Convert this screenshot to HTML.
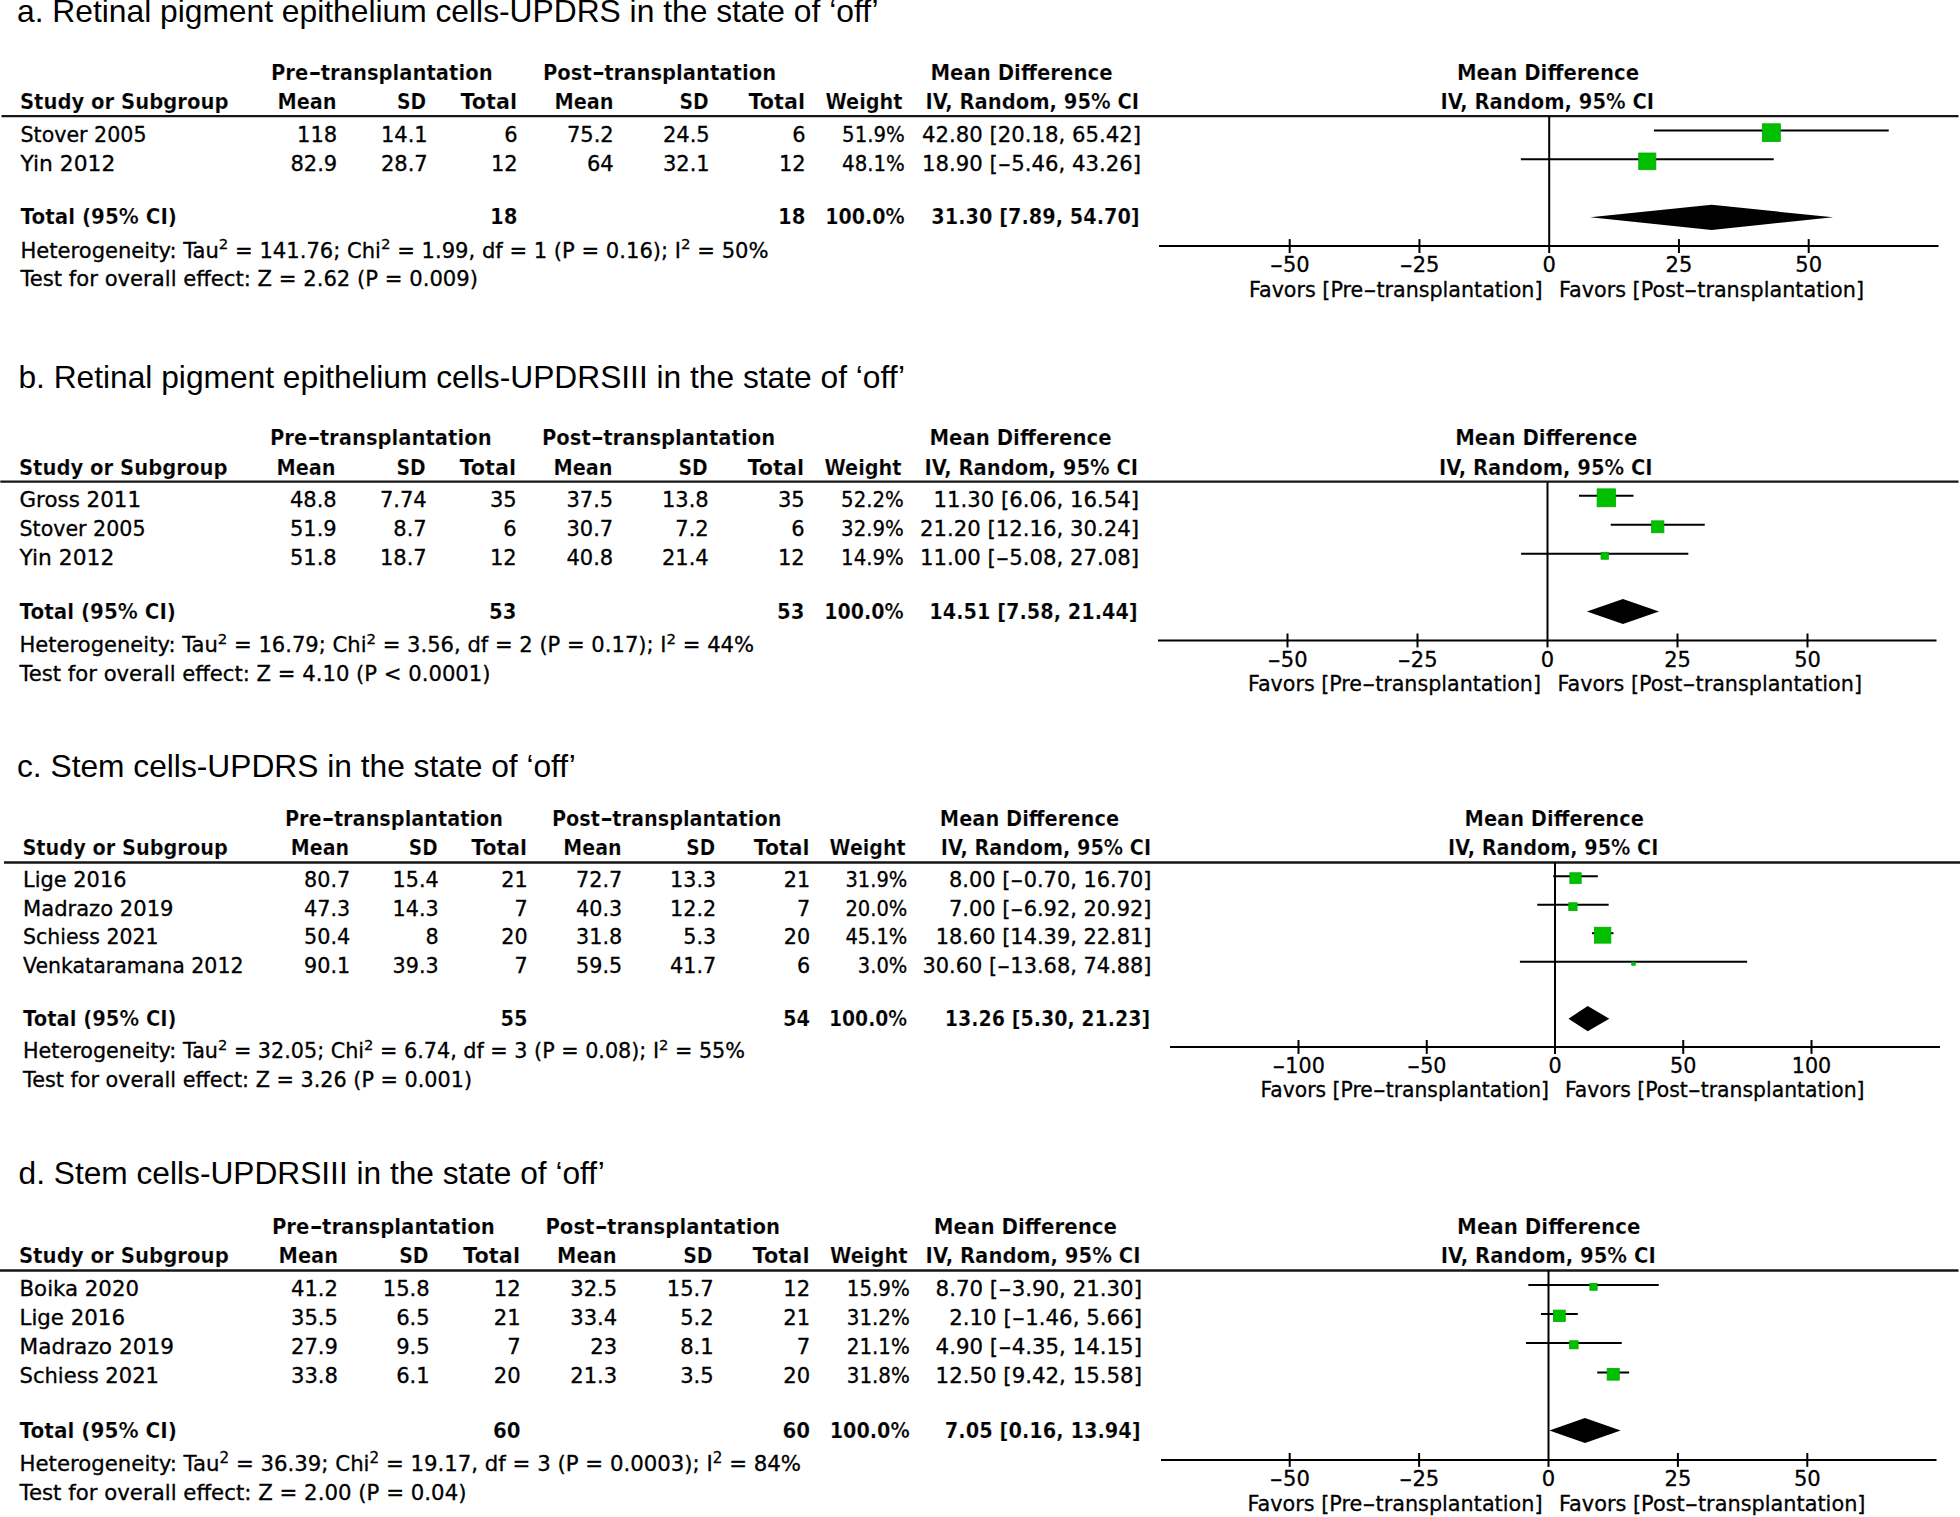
<!DOCTYPE html>
<html lang="en"><head><meta charset="utf-8"><title>Forest plots</title>
<style>
html,body{margin:0;padding:0;background:#fff;overflow:hidden}
svg{display:block}
text{fill:#000;white-space:pre}
.r{font-family:"DejaVu Sans","Liberation Sans",sans-serif;stroke:#000;stroke-width:0.3}
.b{font-family:"DejaVu Sans","Liberation Sans",sans-serif;font-weight:bold;stroke:#fff;stroke-width:0.22;stroke-linejoin:round}
.t{font-family:"Liberation Sans",sans-serif}
line{stroke:#000}
.hl{stroke:#161616}
polygon{fill:#000}
.g{fill:#00c000;stroke:#00aa00;stroke-width:0.8}
</style></head><body>
<svg width="1960" height="1517" viewBox="0 0 1960 1517">
<text class="t" x="17" y="22" font-size="31.78">a. Retinal pigment epithelium cells-UPDRS in the state of ‘off’</text>
<text class="b" x="270.9" y="80" font-size="21" textLength="221.7" lengthAdjust="spacingAndGlyphs">Pre<tspan textLength="13.34" lengthAdjust="spacingAndGlyphs">-</tspan>transplantation</text>
<text class="b" x="542.9" y="80" font-size="21" textLength="233.2" lengthAdjust="spacingAndGlyphs">Post<tspan textLength="13.34" lengthAdjust="spacingAndGlyphs">-</tspan>transplantation</text>
<text class="b" x="930.4" y="80" font-size="21" textLength="182.2" lengthAdjust="spacingAndGlyphs">Mean Difference</text>
<text class="b" x="1456.9" y="80" font-size="21" textLength="182.2" lengthAdjust="spacingAndGlyphs">Mean Difference</text>
<text class="b" x="19.9" y="109" font-size="21" textLength="208.7" lengthAdjust="spacingAndGlyphs">Study or Subgroup</text>
<text class="b" x="277.4" y="109" font-size="21" textLength="59.2" lengthAdjust="spacingAndGlyphs">Mean</text>
<text class="b" x="396.9" y="109" font-size="21" textLength="29.2" lengthAdjust="spacingAndGlyphs">SD</text>
<text class="b" x="460.4" y="109" font-size="21" textLength="56.7" lengthAdjust="spacingAndGlyphs">Total</text>
<text class="b" x="554.4" y="109" font-size="21" textLength="59.2" lengthAdjust="spacingAndGlyphs">Mean</text>
<text class="b" x="679.4" y="109" font-size="21" textLength="29.2" lengthAdjust="spacingAndGlyphs">SD</text>
<text class="b" x="748.4" y="109" font-size="21" textLength="56.7" lengthAdjust="spacingAndGlyphs">Total</text>
<text class="b" x="825.4" y="109" font-size="21" textLength="77.2" lengthAdjust="spacingAndGlyphs">Weight</text>
<text class="b" x="925.4" y="109" font-size="21" textLength="213.7" lengthAdjust="spacingAndGlyphs">IV, Random, 95% CI</text>
<text class="b" x="1440.4" y="109" font-size="21" textLength="213.7" lengthAdjust="spacingAndGlyphs">IV, Random, 95% CI</text>
<line class="hl" x1="1.5" y1="116.1" x2="1958.5" y2="116.1" stroke-width="2.4"/>
<text class="r" x="20.5" y="142" font-size="21" textLength="126" lengthAdjust="spacingAndGlyphs">Stover 2005</text>
<text class="r" x="297.12" y="142" font-size="21">118</text>
<text class="r" x="380.94" y="142" font-size="21">14.1</text>
<text class="r" x="504.34" y="142" font-size="21">6</text>
<text class="r" x="566.94" y="142" font-size="21">75.2</text>
<text class="r" x="662.94" y="142" font-size="21">24.5</text>
<text class="r" x="792.34" y="142" font-size="21">6</text>
<text class="r" x="842.09" y="142" font-size="21" textLength="62.71" lengthAdjust="spacingAndGlyphs">51.9%</text>
<text class="r" x="922.06" y="142" font-size="21" textLength="218.94" lengthAdjust="spacingAndGlyphs">42.80 [20.18, 65.42]</text>
<line x1="1653.93" y1="130.5" x2="1888.73" y2="130.5" stroke-width="2"/>
<rect class="g" x="1762.33" y="123.8" width="18" height="17.6"/>
<text class="r" x="20.5" y="170.75" font-size="21" textLength="94.75" lengthAdjust="spacingAndGlyphs">Yin 2012</text>
<text class="r" x="290.44" y="170.75" font-size="21">82.9</text>
<text class="r" x="380.94" y="170.75" font-size="21">28.7</text>
<text class="r" x="490.98" y="170.75" font-size="21">12</text>
<text class="r" x="586.98" y="170.75" font-size="21">64</text>
<text class="r" x="662.94" y="170.75" font-size="21">32.1</text>
<text class="r" x="778.98" y="170.75" font-size="21">12</text>
<text class="r" x="842.09" y="170.75" font-size="21" textLength="62.71" lengthAdjust="spacingAndGlyphs">48.1%</text>
<text class="r" x="922.09" y="170.75" font-size="21" textLength="218.91" lengthAdjust="spacingAndGlyphs">18.90 [<tspan textLength="13.34" lengthAdjust="spacingAndGlyphs">-</tspan>5.46, 43.26]</text>
<line x1="1520.86" y1="159.25" x2="1773.72" y2="159.25" stroke-width="2"/>
<rect class="g" x="1638.74" y="153" width="17.1" height="16.7"/>
<text class="b" x="20.5" y="224.25" font-size="21" textLength="156.5" lengthAdjust="spacingAndGlyphs">Total (95% CI)</text>
<text class="b" x="490.03" y="224.25" font-size="21" textLength="27.47" lengthAdjust="spacingAndGlyphs">18</text>
<text class="b" x="778.03" y="224.25" font-size="21" textLength="27.47" lengthAdjust="spacingAndGlyphs">18</text>
<text class="b" x="825.2" y="224.25" font-size="21" textLength="79.5" lengthAdjust="spacingAndGlyphs">100.0%</text>
<text class="b" x="931.36" y="224.25" font-size="21" textLength="208.34" lengthAdjust="spacingAndGlyphs">31.30 [7.89, 54.70]</text>
<polygon points="1590.15,217.35 1711.65,204.75 1833.09,217.35 1711.65,229.95"/>
<text class="r" x="20.5" y="257.5" font-size="21" textLength="748" lengthAdjust="spacingAndGlyphs">Heterogeneity: Tau<tspan dy="-8.09" font-size="14.91">2</tspan><tspan dy="8.09"> = 141.76; Chi</tspan><tspan dy="-8.09" font-size="14.91">2</tspan><tspan dy="8.09"> = 1.99, df = 1 (P = 0.16); I</tspan><tspan dy="-8.09" font-size="14.91">2</tspan><tspan dy="8.09"> = 50%</tspan></text>
<text class="r" x="20.5" y="286.25" font-size="21" textLength="457.5" lengthAdjust="spacingAndGlyphs">Test for overall effect: Z = 2.62 (P = 0.009)</text>
<line x1="1549.2" y1="116.1" x2="1549.2" y2="253" stroke-width="2"/>
<line x1="1159" y1="246.1" x2="1938.5" y2="246.1" stroke-width="2"/>
<line x1="1289.7" y1="239.1" x2="1289.7" y2="253" stroke-width="2"/>
<text class="r" x="1269.67" y="272.3" font-size="21" textLength="40.06" lengthAdjust="spacingAndGlyphs"><tspan textLength="13.34" lengthAdjust="spacingAndGlyphs">-</tspan>50</text>
<line x1="1419.45" y1="239.1" x2="1419.45" y2="253" stroke-width="2"/>
<text class="r" x="1399.42" y="272.3" font-size="21" textLength="40.06" lengthAdjust="spacingAndGlyphs"><tspan textLength="13.34" lengthAdjust="spacingAndGlyphs">-</tspan>25</text>
<text class="r" x="1542.52" y="272.3" font-size="21">0</text>
<line x1="1678.95" y1="239.1" x2="1678.95" y2="253" stroke-width="2"/>
<text class="r" x="1665.59" y="272.3" font-size="21">25</text>
<line x1="1808.7" y1="239.1" x2="1808.7" y2="253" stroke-width="2"/>
<text class="r" x="1795.34" y="272.3" font-size="21">50</text>
<text class="r" x="1249" y="296.6" font-size="21" textLength="293.5" lengthAdjust="spacingAndGlyphs">Favors [Pre<tspan textLength="13.34" lengthAdjust="spacingAndGlyphs">-</tspan>transplantation]</text>
<text class="r" x="1559" y="296.6" font-size="21" textLength="305" lengthAdjust="spacingAndGlyphs">Favors [Post<tspan textLength="13.34" lengthAdjust="spacingAndGlyphs">-</tspan>transplantation]</text>
<text class="t" x="18.4" y="388.2" font-size="31.72">b. Retinal pigment epithelium cells-UPDRSIII in the state of ‘off’</text>
<text class="b" x="269.9" y="445" font-size="21" textLength="221.7" lengthAdjust="spacingAndGlyphs">Pre<tspan textLength="13.34" lengthAdjust="spacingAndGlyphs">-</tspan>transplantation</text>
<text class="b" x="541.9" y="445" font-size="21" textLength="233.2" lengthAdjust="spacingAndGlyphs">Post<tspan textLength="13.34" lengthAdjust="spacingAndGlyphs">-</tspan>transplantation</text>
<text class="b" x="929.4" y="445" font-size="21" textLength="182.2" lengthAdjust="spacingAndGlyphs">Mean Difference</text>
<text class="b" x="1455.15" y="445" font-size="21" textLength="182.2" lengthAdjust="spacingAndGlyphs">Mean Difference</text>
<text class="b" x="18.9" y="474.5" font-size="21" textLength="208.7" lengthAdjust="spacingAndGlyphs">Study or Subgroup</text>
<text class="b" x="276.4" y="474.5" font-size="21" textLength="59.2" lengthAdjust="spacingAndGlyphs">Mean</text>
<text class="b" x="396.4" y="474.5" font-size="21" textLength="29.2" lengthAdjust="spacingAndGlyphs">SD</text>
<text class="b" x="459.4" y="474.5" font-size="21" textLength="56.7" lengthAdjust="spacingAndGlyphs">Total</text>
<text class="b" x="553.4" y="474.5" font-size="21" textLength="59.2" lengthAdjust="spacingAndGlyphs">Mean</text>
<text class="b" x="678.4" y="474.5" font-size="21" textLength="29.2" lengthAdjust="spacingAndGlyphs">SD</text>
<text class="b" x="747.4" y="474.5" font-size="21" textLength="56.7" lengthAdjust="spacingAndGlyphs">Total</text>
<text class="b" x="824.4" y="474.5" font-size="21" textLength="77.2" lengthAdjust="spacingAndGlyphs">Weight</text>
<text class="b" x="924.4" y="474.5" font-size="21" textLength="213.7" lengthAdjust="spacingAndGlyphs">IV, Random, 95% CI</text>
<text class="b" x="1438.9" y="474.5" font-size="21" textLength="213.7" lengthAdjust="spacingAndGlyphs">IV, Random, 95% CI</text>
<line class="hl" x1="0.3" y1="481.6" x2="1958.5" y2="481.6" stroke-width="2.4"/>
<text class="r" x="19.5" y="507" font-size="21" textLength="121.5" lengthAdjust="spacingAndGlyphs">Gross 2011</text>
<text class="r" x="289.94" y="507" font-size="21">48.8</text>
<text class="r" x="379.94" y="507" font-size="21">7.74</text>
<text class="r" x="489.98" y="507" font-size="21">35</text>
<text class="r" x="566.44" y="507" font-size="21">37.5</text>
<text class="r" x="661.94" y="507" font-size="21">13.8</text>
<text class="r" x="777.98" y="507" font-size="21">35</text>
<text class="r" x="841.09" y="507" font-size="21" textLength="62.71" lengthAdjust="spacingAndGlyphs">52.2%</text>
<text class="r" x="933.56" y="507" font-size="21" textLength="205.44" lengthAdjust="spacingAndGlyphs">11.30 [6.06, 16.54]</text>
<line x1="1579.01" y1="495.8" x2="1633.51" y2="495.8" stroke-width="2"/>
<rect class="g" x="1597.11" y="488.85" width="18.3" height="17.9"/>
<text class="r" x="19.5" y="536" font-size="21" textLength="126" lengthAdjust="spacingAndGlyphs">Stover 2005</text>
<text class="r" x="289.94" y="536" font-size="21">51.9</text>
<text class="r" x="393.3" y="536" font-size="21">8.7</text>
<text class="r" x="503.34" y="536" font-size="21">6</text>
<text class="r" x="566.44" y="536" font-size="21">30.7</text>
<text class="r" x="675.3" y="536" font-size="21">7.2</text>
<text class="r" x="791.34" y="536" font-size="21">6</text>
<text class="r" x="841.09" y="536" font-size="21" textLength="62.71" lengthAdjust="spacingAndGlyphs">32.9%</text>
<text class="r" x="920.06" y="536" font-size="21" textLength="218.94" lengthAdjust="spacingAndGlyphs">21.20 [12.16, 30.24]</text>
<line x1="1610.73" y1="524.8" x2="1704.75" y2="524.8" stroke-width="2"/>
<rect class="g" x="1651.59" y="520.85" width="12.3" height="11.9"/>
<text class="r" x="19.5" y="565" font-size="21" textLength="94.75" lengthAdjust="spacingAndGlyphs">Yin 2012</text>
<text class="r" x="289.94" y="565" font-size="21">51.8</text>
<text class="r" x="379.94" y="565" font-size="21">18.7</text>
<text class="r" x="489.98" y="565" font-size="21">12</text>
<text class="r" x="566.44" y="565" font-size="21">40.8</text>
<text class="r" x="661.94" y="565" font-size="21">21.4</text>
<text class="r" x="777.98" y="565" font-size="21">12</text>
<text class="r" x="841.09" y="565" font-size="21" textLength="62.71" lengthAdjust="spacingAndGlyphs">14.9%</text>
<text class="r" x="920.09" y="565" font-size="21" textLength="218.91" lengthAdjust="spacingAndGlyphs">11.00 [<tspan textLength="13.34" lengthAdjust="spacingAndGlyphs">-</tspan>5.08, 27.08]</text>
<line x1="1521.08" y1="553.8" x2="1688.32" y2="553.8" stroke-width="2"/>
<rect class="g" x="1601.05" y="552.35" width="7.3" height="6.9"/>
<text class="b" x="19.5" y="619" font-size="21" textLength="156.5" lengthAdjust="spacingAndGlyphs">Total (95% CI)</text>
<text class="b" x="489.03" y="619" font-size="21" textLength="27.47" lengthAdjust="spacingAndGlyphs">53</text>
<text class="b" x="777.03" y="619" font-size="21" textLength="27.47" lengthAdjust="spacingAndGlyphs">53</text>
<text class="b" x="824.2" y="619" font-size="21" textLength="79.5" lengthAdjust="spacingAndGlyphs">100.0%</text>
<text class="b" x="929.36" y="619" font-size="21" textLength="208.34" lengthAdjust="spacingAndGlyphs">14.51 [7.58, 21.44]</text>
<polygon points="1586.92,611.5 1622.95,598.9 1658.99,611.5 1622.95,624.1"/>
<text class="r" x="19.5" y="651.7" font-size="21" textLength="734.5" lengthAdjust="spacingAndGlyphs">Heterogeneity: Tau<tspan dy="-8.09" font-size="14.91">2</tspan><tspan dy="8.09"> = 16.79; Chi</tspan><tspan dy="-8.09" font-size="14.91">2</tspan><tspan dy="8.09"> = 3.56, df = 2 (P = 0.17); I</tspan><tspan dy="-8.09" font-size="14.91">2</tspan><tspan dy="8.09"> = 44%</tspan></text>
<text class="r" x="19.5" y="681" font-size="21" textLength="471" lengthAdjust="spacingAndGlyphs">Test for overall effect: Z = 4.10 (P &lt; 0.0001)</text>
<line x1="1547.5" y1="481.6" x2="1547.5" y2="647.4" stroke-width="2"/>
<line x1="1158" y1="640.5" x2="1936.5" y2="640.5" stroke-width="2"/>
<line x1="1287.5" y1="633.5" x2="1287.5" y2="647.4" stroke-width="2"/>
<text class="r" x="1267.47" y="666.6" font-size="21" textLength="40.06" lengthAdjust="spacingAndGlyphs"><tspan textLength="13.34" lengthAdjust="spacingAndGlyphs">-</tspan>50</text>
<line x1="1417.5" y1="633.5" x2="1417.5" y2="647.4" stroke-width="2"/>
<text class="r" x="1397.47" y="666.6" font-size="21" textLength="40.06" lengthAdjust="spacingAndGlyphs"><tspan textLength="13.34" lengthAdjust="spacingAndGlyphs">-</tspan>25</text>
<text class="r" x="1540.82" y="666.6" font-size="21">0</text>
<line x1="1677.5" y1="633.5" x2="1677.5" y2="647.4" stroke-width="2"/>
<text class="r" x="1664.14" y="666.6" font-size="21">25</text>
<line x1="1807.5" y1="633.5" x2="1807.5" y2="647.4" stroke-width="2"/>
<text class="r" x="1794.14" y="666.6" font-size="21">50</text>
<text class="r" x="1248" y="690.9" font-size="21" textLength="293" lengthAdjust="spacingAndGlyphs">Favors [Pre<tspan textLength="13.34" lengthAdjust="spacingAndGlyphs">-</tspan>transplantation]</text>
<text class="r" x="1557.5" y="690.9" font-size="21" textLength="304.5" lengthAdjust="spacingAndGlyphs">Favors [Post<tspan textLength="13.34" lengthAdjust="spacingAndGlyphs">-</tspan>transplantation]</text>
<text class="t" x="17" y="776.9" font-size="31.72">c. Stem cells-UPDRS in the state of ‘off’</text>
<text class="b" x="284.9" y="826" font-size="20.7" textLength="218.17" lengthAdjust="spacingAndGlyphs">Pre<tspan textLength="13.14" lengthAdjust="spacingAndGlyphs">-</tspan>transplantation</text>
<text class="b" x="551.9" y="826" font-size="20.7" textLength="229.49" lengthAdjust="spacingAndGlyphs">Post<tspan textLength="13.14" lengthAdjust="spacingAndGlyphs">-</tspan>transplantation</text>
<text class="b" x="939.8" y="826" font-size="20.7" textLength="179.3" lengthAdjust="spacingAndGlyphs">Mean Difference</text>
<text class="b" x="1464.6" y="826" font-size="20.7" textLength="179.3" lengthAdjust="spacingAndGlyphs">Mean Difference</text>
<text class="b" x="22.4" y="854.5" font-size="20.7" textLength="205.38" lengthAdjust="spacingAndGlyphs">Study or Subgroup</text>
<text class="b" x="290.83" y="854.5" font-size="20.7" textLength="58.27" lengthAdjust="spacingAndGlyphs">Mean</text>
<text class="b" x="408.85" y="854.5" font-size="20.7" textLength="28.75" lengthAdjust="spacingAndGlyphs">SD</text>
<text class="b" x="471.29" y="854.5" font-size="20.7" textLength="55.81" lengthAdjust="spacingAndGlyphs">Total</text>
<text class="b" x="563.33" y="854.5" font-size="20.7" textLength="58.27" lengthAdjust="spacingAndGlyphs">Mean</text>
<text class="b" x="686.35" y="854.5" font-size="20.7" textLength="28.75" lengthAdjust="spacingAndGlyphs">SD</text>
<text class="b" x="753.79" y="854.5" font-size="20.7" textLength="55.81" lengthAdjust="spacingAndGlyphs">Total</text>
<text class="b" x="829.62" y="854.5" font-size="20.7" textLength="75.98" lengthAdjust="spacingAndGlyphs">Weight</text>
<text class="b" x="940.8" y="854.5" font-size="20.7" textLength="210.3" lengthAdjust="spacingAndGlyphs">IV, Random, 95% CI</text>
<text class="b" x="1448.1" y="854.5" font-size="20.7" textLength="210.3" lengthAdjust="spacingAndGlyphs">IV, Random, 95% CI</text>
<line class="hl" x1="4" y1="862.5" x2="1960" y2="862.5" stroke-width="2.4"/>
<text class="r" x="23" y="887" font-size="20.7" textLength="103.5" lengthAdjust="spacingAndGlyphs">Lige 2016</text>
<text class="r" x="304.11" y="887" font-size="20.7">80.7</text>
<text class="r" x="392.61" y="887" font-size="20.7">15.4</text>
<text class="r" x="501.36" y="887" font-size="20.7">21</text>
<text class="r" x="576.11" y="887" font-size="20.7">72.7</text>
<text class="r" x="670.11" y="887" font-size="20.7">13.3</text>
<text class="r" x="783.86" y="887" font-size="20.7">21</text>
<text class="r" x="845.49" y="887" font-size="20.7" textLength="61.81" lengthAdjust="spacingAndGlyphs">31.9%</text>
<text class="r" x="949.02" y="887" font-size="20.7" textLength="202.48" lengthAdjust="spacingAndGlyphs">8.00 [<tspan textLength="13.14" lengthAdjust="spacingAndGlyphs">-</tspan>0.70, 16.70]</text>
<line x1="1553.2" y1="876.2" x2="1597.84" y2="876.2" stroke-width="2"/>
<rect class="g" x="1569.87" y="872.75" width="11.3" height="10.9"/>
<text class="r" x="23" y="915.5" font-size="20.7" textLength="150.5" lengthAdjust="spacingAndGlyphs">Madrazo 2019</text>
<text class="r" x="304.11" y="915.5" font-size="20.7">47.3</text>
<text class="r" x="392.61" y="915.5" font-size="20.7">14.3</text>
<text class="r" x="514.53" y="915.5" font-size="20.7">7</text>
<text class="r" x="576.11" y="915.5" font-size="20.7">40.3</text>
<text class="r" x="670.11" y="915.5" font-size="20.7">12.2</text>
<text class="r" x="797.03" y="915.5" font-size="20.7">7</text>
<text class="r" x="845.49" y="915.5" font-size="20.7" textLength="61.81" lengthAdjust="spacingAndGlyphs">20.0%</text>
<text class="r" x="949.02" y="915.5" font-size="20.7" textLength="202.48" lengthAdjust="spacingAndGlyphs">7.00 [<tspan textLength="13.14" lengthAdjust="spacingAndGlyphs">-</tspan>6.92, 20.92]</text>
<line x1="1537.25" y1="904.7" x2="1608.66" y2="904.7" stroke-width="2"/>
<rect class="g" x="1568.8" y="902.75" width="8.3" height="7.9"/>
<text class="r" x="23" y="944" font-size="20.7" textLength="135.5" lengthAdjust="spacingAndGlyphs">Schiess 2021</text>
<text class="r" x="304.11" y="944" font-size="20.7">50.4</text>
<text class="r" x="425.53" y="944" font-size="20.7">8</text>
<text class="r" x="501.36" y="944" font-size="20.7">20</text>
<text class="r" x="576.11" y="944" font-size="20.7">31.8</text>
<text class="r" x="683.28" y="944" font-size="20.7">5.3</text>
<text class="r" x="783.86" y="944" font-size="20.7">20</text>
<text class="r" x="845.49" y="944" font-size="20.7" textLength="61.81" lengthAdjust="spacingAndGlyphs">45.1%</text>
<text class="r" x="935.69" y="944" font-size="20.7" textLength="215.81" lengthAdjust="spacingAndGlyphs">18.60 [14.39, 22.81]</text>
<line x1="1591.91" y1="933.2" x2="1613.51" y2="933.2" stroke-width="2"/>
<rect class="g" x="1594.56" y="927.25" width="16.3" height="15.9"/>
<text class="r" x="23" y="972.5" font-size="20.7" textLength="220.5" lengthAdjust="spacingAndGlyphs">Venkataramana 2012</text>
<text class="r" x="304.11" y="972.5" font-size="20.7">90.1</text>
<text class="r" x="392.61" y="972.5" font-size="20.7">39.3</text>
<text class="r" x="514.53" y="972.5" font-size="20.7">7</text>
<text class="r" x="576.11" y="972.5" font-size="20.7">59.5</text>
<text class="r" x="670.11" y="972.5" font-size="20.7">41.7</text>
<text class="r" x="797.03" y="972.5" font-size="20.7">6</text>
<text class="r" x="857.87" y="972.5" font-size="20.7" textLength="49.43" lengthAdjust="spacingAndGlyphs">3.0%</text>
<text class="r" x="922.41" y="972.5" font-size="20.7" textLength="229.09" lengthAdjust="spacingAndGlyphs">30.60 [<tspan textLength="13.14" lengthAdjust="spacingAndGlyphs">-</tspan>13.68, 74.88]</text>
<line x1="1519.91" y1="961.7" x2="1747.07" y2="961.7" stroke-width="2"/>
<rect class="g" x="1631.74" y="962.15" width="3.5" height="3.1"/>
<text class="b" x="23" y="1025.5" font-size="20.7" textLength="153.5" lengthAdjust="spacingAndGlyphs">Total (95% CI)</text>
<text class="b" x="500.42" y="1025.5" font-size="20.7" textLength="27.08" lengthAdjust="spacingAndGlyphs">55</text>
<text class="b" x="782.92" y="1025.5" font-size="20.7" textLength="27.08" lengthAdjust="spacingAndGlyphs">54</text>
<text class="b" x="828.97" y="1025.5" font-size="20.7" textLength="78.23" lengthAdjust="spacingAndGlyphs">100.0%</text>
<text class="b" x="944.84" y="1025.5" font-size="20.7" textLength="205.36" lengthAdjust="spacingAndGlyphs">13.26 [5.30, 21.23]</text>
<polygon points="1568.5,1018.7 1587.7,1006.1 1609.3,1018.7 1587.7,1031.3"/>
<text class="r" x="23" y="1058" font-size="20.7" textLength="722" lengthAdjust="spacingAndGlyphs">Heterogeneity: Tau<tspan dy="-7.97" font-size="14.7">2</tspan><tspan dy="7.97"> = 32.05; Chi</tspan><tspan dy="-7.97" font-size="14.7">2</tspan><tspan dy="7.97"> = 6.74, df = 3 (P = 0.08); I</tspan><tspan dy="-7.97" font-size="14.7">2</tspan><tspan dy="7.97"> = 55%</tspan></text>
<text class="r" x="23" y="1086.5" font-size="20.7" textLength="449" lengthAdjust="spacingAndGlyphs">Test for overall effect: Z = 3.26 (P = 0.001)</text>
<line x1="1555" y1="862.5" x2="1555" y2="1053.9" stroke-width="2"/>
<line x1="1170" y1="1047" x2="1940" y2="1047" stroke-width="2"/>
<line x1="1298.5" y1="1040" x2="1298.5" y2="1053.9" stroke-width="2"/>
<text class="r" x="1272.17" y="1072.5" font-size="20.7" textLength="52.65" lengthAdjust="spacingAndGlyphs"><tspan textLength="13.14" lengthAdjust="spacingAndGlyphs">-</tspan>100</text>
<line x1="1426.75" y1="1040" x2="1426.75" y2="1053.9" stroke-width="2"/>
<text class="r" x="1407.01" y="1072.5" font-size="20.7" textLength="39.48" lengthAdjust="spacingAndGlyphs"><tspan textLength="13.14" lengthAdjust="spacingAndGlyphs">-</tspan>50</text>
<text class="r" x="1548.41" y="1072.5" font-size="20.7">0</text>
<line x1="1683.25" y1="1040" x2="1683.25" y2="1053.9" stroke-width="2"/>
<text class="r" x="1670.08" y="1072.5" font-size="20.7">50</text>
<line x1="1811.5" y1="1040" x2="1811.5" y2="1053.9" stroke-width="2"/>
<text class="r" x="1791.74" y="1072.5" font-size="20.7">100</text>
<text class="r" x="1260.5" y="1096.9" font-size="20.7" textLength="288.5" lengthAdjust="spacingAndGlyphs">Favors [Pre<tspan textLength="13.14" lengthAdjust="spacingAndGlyphs">-</tspan>transplantation]</text>
<text class="r" x="1565" y="1096.9" font-size="20.7" textLength="299.5" lengthAdjust="spacingAndGlyphs">Favors [Post<tspan textLength="13.14" lengthAdjust="spacingAndGlyphs">-</tspan>transplantation]</text>
<text class="t" x="18.6" y="1183.6" font-size="31.68">d. Stem cells-UPDRSIII in the state of ‘off’</text>
<text class="b" x="271.9" y="1233.5" font-size="21.1" textLength="223.02" lengthAdjust="spacingAndGlyphs">Pre<tspan textLength="13.4" lengthAdjust="spacingAndGlyphs">-</tspan>transplantation</text>
<text class="b" x="545.4" y="1233.5" font-size="21.1" textLength="234.59" lengthAdjust="spacingAndGlyphs">Post<tspan textLength="13.4" lengthAdjust="spacingAndGlyphs">-</tspan>transplantation</text>
<text class="b" x="933.81" y="1233.5" font-size="21.1" textLength="183.29" lengthAdjust="spacingAndGlyphs">Mean Difference</text>
<text class="b" x="1457.11" y="1233.5" font-size="21.1" textLength="183.29" lengthAdjust="spacingAndGlyphs">Mean Difference</text>
<text class="b" x="18.9" y="1262.5" font-size="21.1" textLength="209.94" lengthAdjust="spacingAndGlyphs">Study or Subgroup</text>
<text class="b" x="278.55" y="1262.5" font-size="21.1" textLength="59.55" lengthAdjust="spacingAndGlyphs">Mean</text>
<text class="b" x="399.23" y="1262.5" font-size="21.1" textLength="29.37" lengthAdjust="spacingAndGlyphs">SD</text>
<text class="b" x="463.07" y="1262.5" font-size="21.1" textLength="57.03" lengthAdjust="spacingAndGlyphs">Total</text>
<text class="b" x="557.05" y="1262.5" font-size="21.1" textLength="59.55" lengthAdjust="spacingAndGlyphs">Mean</text>
<text class="b" x="683.23" y="1262.5" font-size="21.1" textLength="29.37" lengthAdjust="spacingAndGlyphs">SD</text>
<text class="b" x="752.57" y="1262.5" font-size="21.1" textLength="57.03" lengthAdjust="spacingAndGlyphs">Total</text>
<text class="b" x="829.94" y="1262.5" font-size="21.1" textLength="77.66" lengthAdjust="spacingAndGlyphs">Weight</text>
<text class="b" x="925.62" y="1262.5" font-size="21.1" textLength="214.97" lengthAdjust="spacingAndGlyphs">IV, Random, 95% CI</text>
<text class="b" x="1440.76" y="1262.5" font-size="21.1" textLength="214.97" lengthAdjust="spacingAndGlyphs">IV, Random, 95% CI</text>
<line class="hl" x1="0" y1="1270.5" x2="1958.5" y2="1270.5" stroke-width="2.4"/>
<text class="r" x="19.5" y="1295.8" font-size="21.1" textLength="119.5" lengthAdjust="spacingAndGlyphs">Boika 2020</text>
<text class="r" x="291.02" y="1295.8" font-size="21.1">41.2</text>
<text class="r" x="382.72" y="1295.8" font-size="21.1">15.8</text>
<text class="r" x="493.85" y="1295.8" font-size="21.1">12</text>
<text class="r" x="570.22" y="1295.8" font-size="21.1">32.5</text>
<text class="r" x="666.72" y="1295.8" font-size="21.1">15.7</text>
<text class="r" x="783.35" y="1295.8" font-size="21.1">12</text>
<text class="r" x="846.79" y="1295.8" font-size="21.1" textLength="63.01" lengthAdjust="spacingAndGlyphs">15.9%</text>
<text class="r" x="935.61" y="1295.8" font-size="21.1" textLength="206.39" lengthAdjust="spacingAndGlyphs">8.70 [<tspan textLength="13.4" lengthAdjust="spacingAndGlyphs">-</tspan>3.90, 21.30]</text>
<line x1="1528.31" y1="1285" x2="1658.75" y2="1285" stroke-width="2"/>
<rect class="g" x="1589.88" y="1283.35" width="7.3" height="6.9"/>
<text class="r" x="19.5" y="1324.8" font-size="21.1" textLength="105.5" lengthAdjust="spacingAndGlyphs">Lige 2016</text>
<text class="r" x="291.02" y="1324.8" font-size="21.1">35.5</text>
<text class="r" x="396.14" y="1324.8" font-size="21.1">6.5</text>
<text class="r" x="493.85" y="1324.8" font-size="21.1">21</text>
<text class="r" x="570.22" y="1324.8" font-size="21.1">33.4</text>
<text class="r" x="680.14" y="1324.8" font-size="21.1">5.2</text>
<text class="r" x="783.35" y="1324.8" font-size="21.1">21</text>
<text class="r" x="846.79" y="1324.8" font-size="21.1" textLength="63.01" lengthAdjust="spacingAndGlyphs">31.2%</text>
<text class="r" x="949.16" y="1324.8" font-size="21.1" textLength="192.84" lengthAdjust="spacingAndGlyphs">2.10 [<tspan textLength="13.4" lengthAdjust="spacingAndGlyphs">-</tspan>1.46, 5.66]</text>
<line x1="1540.94" y1="1314" x2="1577.8" y2="1314" stroke-width="2"/>
<rect class="g" x="1553.47" y="1310.1" width="11.8" height="11.4"/>
<text class="r" x="19.5" y="1353.8" font-size="21.1" textLength="154.5" lengthAdjust="spacingAndGlyphs">Madrazo 2019</text>
<text class="r" x="291.02" y="1353.8" font-size="21.1">27.9</text>
<text class="r" x="396.14" y="1353.8" font-size="21.1">9.5</text>
<text class="r" x="507.28" y="1353.8" font-size="21.1">7</text>
<text class="r" x="590.35" y="1353.8" font-size="21.1">23</text>
<text class="r" x="680.14" y="1353.8" font-size="21.1">8.1</text>
<text class="r" x="796.78" y="1353.8" font-size="21.1">7</text>
<text class="r" x="846.79" y="1353.8" font-size="21.1" textLength="63.01" lengthAdjust="spacingAndGlyphs">21.1%</text>
<text class="r" x="935.61" y="1353.8" font-size="21.1" textLength="206.39" lengthAdjust="spacingAndGlyphs">4.90 [<tspan textLength="13.4" lengthAdjust="spacingAndGlyphs">-</tspan>4.35, 14.15]</text>
<line x1="1525.98" y1="1343" x2="1621.74" y2="1343" stroke-width="2"/>
<rect class="g" x="1569.61" y="1340.75" width="8.5" height="8.1"/>
<text class="r" x="19.5" y="1383.3" font-size="21.1" textLength="139.5" lengthAdjust="spacingAndGlyphs">Schiess 2021</text>
<text class="r" x="291.02" y="1383.3" font-size="21.1">33.8</text>
<text class="r" x="396.14" y="1383.3" font-size="21.1">6.1</text>
<text class="r" x="493.85" y="1383.3" font-size="21.1">20</text>
<text class="r" x="570.22" y="1383.3" font-size="21.1">21.3</text>
<text class="r" x="680.14" y="1383.3" font-size="21.1">3.5</text>
<text class="r" x="783.35" y="1383.3" font-size="21.1">20</text>
<text class="r" x="846.79" y="1383.3" font-size="21.1" textLength="63.01" lengthAdjust="spacingAndGlyphs">31.8%</text>
<text class="r" x="935.58" y="1383.3" font-size="21.1" textLength="206.42" lengthAdjust="spacingAndGlyphs">12.50 [9.42, 15.58]</text>
<line x1="1597.26" y1="1372.5" x2="1629.14" y2="1372.5" stroke-width="2"/>
<rect class="g" x="1607.15" y="1368.45" width="12.1" height="11.7"/>
<text class="b" x="19.5" y="1438" font-size="21.1" textLength="157.5" lengthAdjust="spacingAndGlyphs">Total (95% CI)</text>
<text class="b" x="492.9" y="1438" font-size="21.1" textLength="27.6" lengthAdjust="spacingAndGlyphs">60</text>
<text class="b" x="782.4" y="1438" font-size="21.1" textLength="27.6" lengthAdjust="spacingAndGlyphs">60</text>
<text class="b" x="829.72" y="1438" font-size="21.1" textLength="79.98" lengthAdjust="spacingAndGlyphs">100.0%</text>
<text class="b" x="944.87" y="1438" font-size="21.1" textLength="195.83" lengthAdjust="spacingAndGlyphs">7.05 [0.16, 13.94]</text>
<polygon points="1549.33,1430.5 1584.99,1417.9 1620.65,1430.5 1584.99,1443.1"/>
<text class="r" x="19.5" y="1471.2" font-size="21.1" textLength="781.5" lengthAdjust="spacingAndGlyphs">Heterogeneity: Tau<tspan dy="-8.12" font-size="14.98">2</tspan><tspan dy="8.12"> = 36.39; Chi</tspan><tspan dy="-8.12" font-size="14.98">2</tspan><tspan dy="8.12"> = 19.17, df = 3 (P = 0.0003); I</tspan><tspan dy="-8.12" font-size="14.98">2</tspan><tspan dy="8.12"> = 84%</tspan></text>
<text class="r" x="19.5" y="1500.2" font-size="21.1" textLength="447" lengthAdjust="spacingAndGlyphs">Test for overall effect: Z = 2.00 (P = 0.04)</text>
<line x1="1548.5" y1="1270.5" x2="1548.5" y2="1466.9" stroke-width="2"/>
<line x1="1161" y1="1460" x2="1936.5" y2="1460" stroke-width="2"/>
<line x1="1289.7" y1="1453" x2="1289.7" y2="1466.9" stroke-width="2"/>
<text class="r" x="1269.58" y="1485.5" font-size="21.1" textLength="40.25" lengthAdjust="spacingAndGlyphs"><tspan textLength="13.4" lengthAdjust="spacingAndGlyphs">-</tspan>50</text>
<line x1="1419.1" y1="1453" x2="1419.1" y2="1466.9" stroke-width="2"/>
<text class="r" x="1398.98" y="1485.5" font-size="21.1" textLength="40.25" lengthAdjust="spacingAndGlyphs"><tspan textLength="13.4" lengthAdjust="spacingAndGlyphs">-</tspan>25</text>
<text class="r" x="1541.79" y="1485.5" font-size="21.1">0</text>
<line x1="1677.9" y1="1453" x2="1677.9" y2="1466.9" stroke-width="2"/>
<text class="r" x="1664.48" y="1485.5" font-size="21.1">25</text>
<line x1="1807.3" y1="1453" x2="1807.3" y2="1466.9" stroke-width="2"/>
<text class="r" x="1793.88" y="1485.5" font-size="21.1">50</text>
<text class="r" x="1247.5" y="1511" font-size="21.1" textLength="295" lengthAdjust="spacingAndGlyphs">Favors [Pre<tspan textLength="13.4" lengthAdjust="spacingAndGlyphs">-</tspan>transplantation]</text>
<text class="r" x="1559" y="1511" font-size="21.1" textLength="306.5" lengthAdjust="spacingAndGlyphs">Favors [Post<tspan textLength="13.4" lengthAdjust="spacingAndGlyphs">-</tspan>transplantation]</text>
</svg>
</body></html>
